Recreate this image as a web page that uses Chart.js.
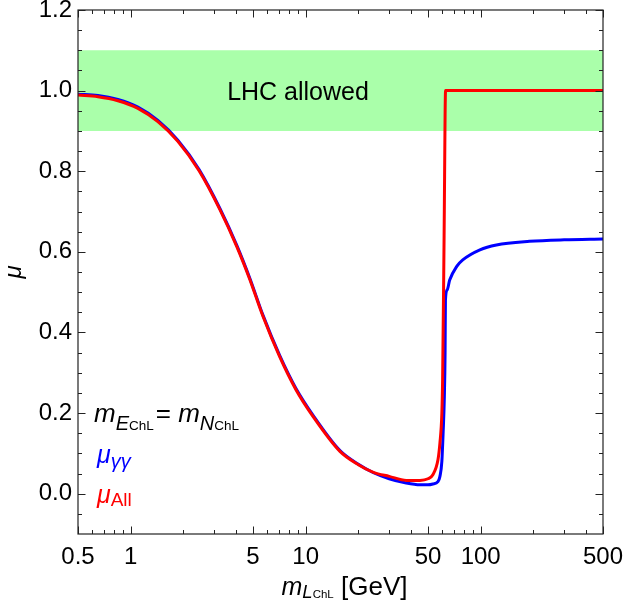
<!DOCTYPE html>
<html>
<head>
<meta charset="utf-8">
<script src="https://cdn.jsdelivr.net/npm/chart.js@4.4.1/dist/chart.umd.min.js"></script>
<style>
  body { margin: 0; background: #fff; }
  canvas { display: block; }
</style>
</head>
<body>
<canvas id="c" width="624" height="614"></canvas>
<script>
// Datos
const blueMass = [0.5, 0.65, 0.845, 1.1, 1.43, 1.86, 2.46, 3.24, 4.04, 4.8,
  5.7, 7.1, 8.8, 11, 15.7, 20, 24.4, 30, 37, 45,
  50, 53.3, 57, 58.5, 60, 61, 62, 62.6, 62.9, 64.4,
  66.5, 73, 79, 99, 123, 190, 300, 500];
const blueMu = [0.991, 0.988, 0.978, 0.959, 0.926, 0.877, 0.804, 0.707, 0.616, 0.534,
  0.443, 0.343, 0.261, 0.195, 0.107, 0.073, 0.052, 0.037, 0.027, 0.022,
  0.022, 0.024, 0.03, 0.043, 0.08, 0.15, 0.24, 0.35, 0.48, 0.506,
  0.53, 0.564, 0.58, 0.605, 0.617, 0.626, 0.63, 0.632];

const redMass = [0.5, 0.65, 0.845, 1.1, 1.43, 1.86, 2.46, 3.24, 4.04, 4.8,
  5.7, 7.1, 8.8, 11, 15.7, 20, 24.4, 30, 37.6, 45,
  50, 53.3, 57, 58.5, 60, 60.6, 61.8, 63, 100, 500];
const redMu = [0.989, 0.985, 0.975, 0.956, 0.923, 0.874, 0.801, 0.704, 0.613, 0.531,
  0.44, 0.34, 0.258, 0.192, 0.105, 0.072, 0.053, 0.043, 0.033, 0.033,
  0.037, 0.047, 0.084, 0.126, 0.2, 0.283, 0.64, 1.0, 1.0, 1.0];

// Banda permitida por el LHC
const bandLow = 0.9;
const bandHigh = 1.1;
const bandMass = [0.5, 500];

// Ticks
const xLabelValues = [0.5, 1, 5, 10, 50, 100, 500];
const xMinorValues = [0.6, 0.7, 0.8, 0.9, 2, 3, 4, 6, 7, 8, 9, 20, 30, 40, 60, 70, 80, 90, 200, 300, 400];
const yLabelValues = [0, 0.2, 0.4, 0.6, 0.8, 1.0, 1.2];
const yMinorValues = [-0.05, 0.05, 0.1, 0.15, 0.25, 0.3, 0.35, 0.45, 0.5, 0.55, 0.65, 0.7, 0.75, 0.85, 0.9, 0.95, 1.05, 1.1, 1.15];

const FONT = '"Liberation Sans", Arial, sans-serif';

function toPoints(xs, ys) {
  return xs.map((x, i) => ({ x: x, y: ys[i] }));
}

// Dibuja texto con sub-índices por partes
function drawParts(ctx, x, y, parts) {
  parts.forEach(p => {
    ctx.font = (p.italic ? 'italic ' : '') + p.size + 'px ' + FONT;
    ctx.fillStyle = p.color || '#000';
    ctx.fillText(p.t, x, y + (p.dy || 0));
    x += ctx.measureText(p.t).width + (p.gap || 0);
  });
}

function partsWidth(ctx, parts) {
  let w = 0;
  parts.forEach(p => {
    ctx.font = (p.italic ? 'italic ' : '') + p.size + 'px ' + FONT;
    w += ctx.measureText(p.t).width + (p.gap || 0);
  });
  return w;
}

const framePlugin = {
  id: 'frame',
  afterDraw(chart) {
    const ctx = chart.ctx;
    const a = chart.chartArea;
    const xs = chart.scales.x;
    const ys = chart.scales.y;
    ctx.save();

    // Marco
    ctx.strokeStyle = '#222';
    ctx.lineWidth = 1.2;
    ctx.strokeRect(a.left, a.top, a.right - a.left, a.bottom - a.top);

    // Ticks hacia dentro en los cuatro lados
    ctx.lineWidth = 1;
    ctx.beginPath();
    const xTick = (v, len) => {
      const px = Math.round(xs.getPixelForValue(v)) + 0.5;
      ctx.moveTo(px, a.bottom); ctx.lineTo(px, a.bottom - len);
      ctx.moveTo(px, a.top); ctx.lineTo(px, a.top + len);
    };
    const yTick = (v, len) => {
      const py = Math.round(ys.getPixelForValue(v)) + 0.5;
      ctx.moveTo(a.left, py); ctx.lineTo(a.left + len, py);
      ctx.moveTo(a.right, py); ctx.lineTo(a.right - len, py);
    };
    xLabelValues.forEach(v => xTick(v, 7.5));
    xMinorValues.forEach(v => xTick(v, 4));
    yLabelValues.forEach(v => yTick(v, 7.5));
    yMinorValues.forEach(v => yTick(v, 4));
    ctx.stroke();

    ctx.textBaseline = 'alphabetic';
    ctx.textAlign = 'left';

    // LHC allowed
    ctx.font = '25px ' + FONT;
    ctx.fillStyle = '#000';
    ctx.textAlign = 'center';
    ctx.fillText('LHC allowed', 298, ys.getPixelForValue(1.0) + 9);
    ctx.textAlign = 'left';

    // Notas a la izquierda
    const lx = a.left + 16;
    drawParts(ctx, lx, ys.getPixelForValue(0.179), [
      { t: 'm', size: 26, italic: true },
      { t: 'E', size: 20, italic: true, dy: 8 },
      { t: 'ChL', size: 13.5, dy: 8, gap: 2 },
      { t: '= ', size: 26 },
      { t: 'm', size: 26, italic: true },
      { t: 'N', size: 20, italic: true, dy: 8 },
      { t: 'ChL', size: 13.5, dy: 8 }
    ]);
    drawParts(ctx, lx + 3, ys.getPixelForValue(0.077), [
      { t: 'μ', size: 25, italic: true, color: '#0000ff' },
      { t: 'γγ', size: 20, italic: true, dy: 5, color: '#0000ff' }
    ]);
    drawParts(ctx, lx + 3, ys.getPixelForValue(-0.024), [
      { t: 'μ', size: 25, italic: true, color: '#ff0000' },
      { t: 'All', size: 19, dy: 3, color: '#ff0000' }
    ]);

    // Título del eje x
    const xTitle = [
      { t: 'm', size: 25, italic: true },
      { t: 'L', size: 18.5, italic: true, dy: 2.5 },
      { t: 'ChL', size: 11.5, dy: 2.5 },
      { t: ' [GeV]', size: 26 }
    ];
    const w = partsWidth(ctx, xTitle);
    drawParts(ctx, (a.left + a.right) / 2 - w / 2 + 4, 595, xTitle);

    // Título del eje y
    ctx.translate(21, (a.top + a.bottom) / 2);
    ctx.rotate(-Math.PI / 2);
    ctx.font = 'italic 24px ' + FONT;
    ctx.textAlign = 'center';
    ctx.fillText('μ', 0, 0);

    ctx.restore();
  }
};

const chart = new Chart(document.getElementById('c'), {
  type: 'line',
  data: {
    datasets: [
      {
        label: 'bandTop',
        data: toPoints(bandMass, [bandHigh, bandHigh]),
        borderWidth: 0,
        pointRadius: 0,
        fill: '+1',
        backgroundColor: '#aaffaa',
        order: 3
      },
      {
        label: 'bandBottom',
        data: toPoints(bandMass, [bandLow, bandLow]),
        borderWidth: 0,
        pointRadius: 0,
        fill: false,
        order: 4
      },
      {
        label: 'mu_gg',
        data: toPoints(blueMass, blueMu),
        borderColor: '#0000ff',
        borderWidth: 3,
        pointRadius: 0,
        fill: false,
        cubicInterpolationMode: 'monotone',
        order: 1
      },
      {
        label: 'mu_All',
        data: toPoints(redMass, redMu),
        borderColor: '#ff0000',
        borderWidth: 3,
        pointRadius: 0,
        fill: false,
        cubicInterpolationMode: 'monotone',
        order: 0
      }
    ]
  },
  options: {
    responsive: false,
    devicePixelRatio: 1,
    animation: false,
    layout: { padding: { top: 10, right: 21, left: 0, bottom: 0 } },
    plugins: { legend: { display: false }, tooltip: { enabled: false } },
    scales: {
      x: {
        type: 'logarithmic',
        min: 0.5,
        max: 500,
        grid: { display: false, drawTicks: false },
        border: { display: false },
        afterBuildTicks: s => { s.ticks = xLabelValues.map(v => ({ value: v })); },
        afterFit: s => { s.height = 80; s.paddingLeft = 0; s.paddingRight = 0; },
        ticks: {
          autoSkip: false,
          maxRotation: 0,
          padding: 9,
          color: '#000',
          font: { family: FONT, size: 24 },
          callback: v => String(v)
        }
      },
      y: {
        type: 'linear',
        min: -0.1,
        max: 1.2,
        grid: { display: false, drawTicks: false },
        border: { display: false },
        afterBuildTicks: s => { s.ticks = yLabelValues.map(v => ({ value: v })); },
        afterFit: s => { s.width = 78; s.paddingTop = 0; s.paddingBottom = 0; },
        ticks: {
          autoSkip: false,
          padding: 6,
          color: '#000',
          font: { family: FONT, size: 24 },
          callback: v => v.toFixed(1)
        }
      }
    }
  },
  plugins: [framePlugin]
});
</script>
</body>
</html>
